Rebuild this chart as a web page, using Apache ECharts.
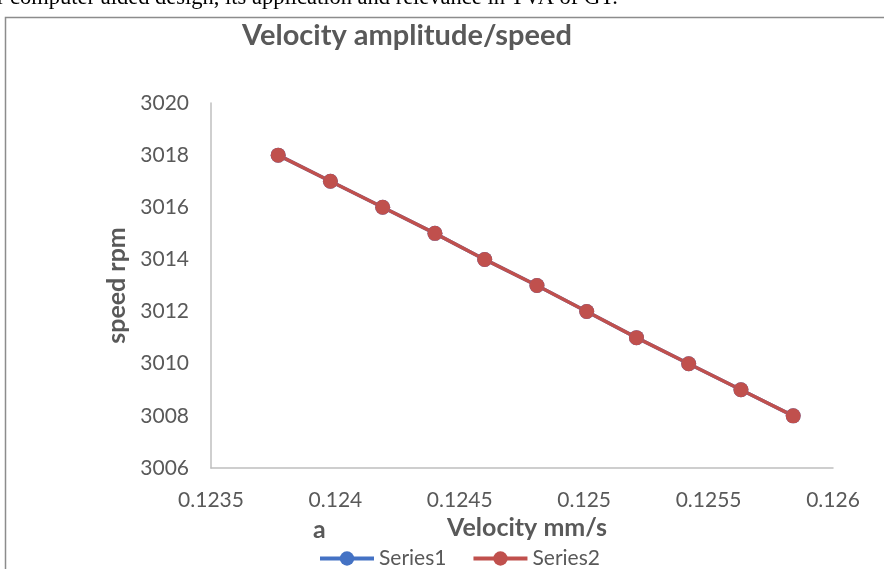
<!DOCTYPE html>
<html>
<head>
<meta charset="utf-8">
<script src="https://cdn.jsdelivr.net/npm/echarts@6/dist/echarts.min.js"></script>
<style>
  html, body { margin: 0; padding: 0; background: #fff; }
  #chart { width: 884px; height: 569px; }
</style>
</head>
<body>
<div id="chart"></div>
<script>
// velocity (mm/s), speed in rpm
const velocity = [0.12377, 0.12398, 0.12419, 0.12440, 0.12460, 0.12481, 0.12501, 0.12521, 0.12542, 0.12563, 0.12584];
const speed = [3018, 3017, 3016, 3015, 3014, 3013, 3012, 3011, 3010, 3009, 3008];
const seriesNames = ['Series1', 'Series2'];
const seriesColors = ['#4472C4', '#C0504D'];

const textGrey = '#595959';
const font = 'Lato, "Open Sans", sans-serif';

const chart = echarts.init(document.getElementById('chart'));

function pairs() {
    return velocity.map((v, i) => [v, speed[i]]);
}

const option = {
    backgroundColor: '#fff',
    animation: false,
    title: {
        text: 'Velocity amplitude/speed',
        left: 402,
        top: 16,
        textAlign: 'center',
        textStyle: { color: textGrey, fontSize: 29, fontWeight: 'bold', fontFamily: font }
    },
    graphic: [
        {
            type: 'text',
            left: -3,
            top: -13,
            style: {
                text: 'r computer aided design, its application and relevance in TVA of GT.',
                fill: '#000',
                font: '22.5px "Liberation Serif", "DejaVu Serif", serif'
            }
        },
        {
            type: 'rect',
            shape: { x: 5.5, y: 17.5, width: 900, height: 600 },
            style: { fill: 'none', stroke: '#8c8c8c', lineWidth: 1.5 }
        },
        {
            type: 'text',
            left: 313,
            top: 517,
            style: { text: 'a', fill: textGrey, font: 'bold 25px ' + font }
        }
    ],
    legend: {
        data: seriesNames,
        left: 313,
        top: 543,
        itemWidth: 54,
        itemHeight: 18,
        itemGap: 25,
        lineStyle: { width: 4 },
        textStyle: { color: textGrey, fontSize: 21, fontFamily: font }
    },
    grid: { left: 211, right: 51, top: 103, bottom: 101 },
    xAxis: {
        type: 'value',
        min: 0.1235,
        max: 0.126,
        interval: 0.0005,
        name: 'Velocity mm/s',
        nameLocation: 'middle',
        nameGap: 46,
        nameTextStyle: { color: textGrey, fontSize: 25, fontWeight: 'bold', fontFamily: font, padding: [0, 0, 0, 10] },
        axisLine: { show: true, lineStyle: { color: '#BFBFBF', width: 1.5 } },
        axisTick: { show: false },
        splitLine: { show: false },
        axisLabel: {
            color: textGrey, fontSize: 21, fontFamily: font, margin: 22,
            formatter: v => String(parseFloat(v.toFixed(4)))
        }
    },
    yAxis: {
        type: 'value',
        min: 3006,
        max: 3020,
        interval: 2,
        name: 'speed rpm',
        nameLocation: 'middle',
        nameGap: 82,
        nameTextStyle: { color: textGrey, fontSize: 25, fontWeight: 'bold', fontFamily: font },
        axisLine: { show: true, lineStyle: { color: '#BFBFBF', width: 1.5 } },
        axisTick: { show: false },
        splitLine: { show: false },
        axisLabel: { color: textGrey, fontSize: 21, fontFamily: font, margin: 22, formatter: v => String(v) }
    },
    series: seriesNames.map((name, i) => ({
        name: name,
        type: 'line',
        data: pairs(),
        symbol: 'circle',
        symbolSize: 15,
        color: seriesColors[i],
        lineStyle: { width: 3.5, color: seriesColors[i] },
        itemStyle: { color: seriesColors[i] }
    }))
};

chart.setOption(option);
</script>
</body>
</html>
